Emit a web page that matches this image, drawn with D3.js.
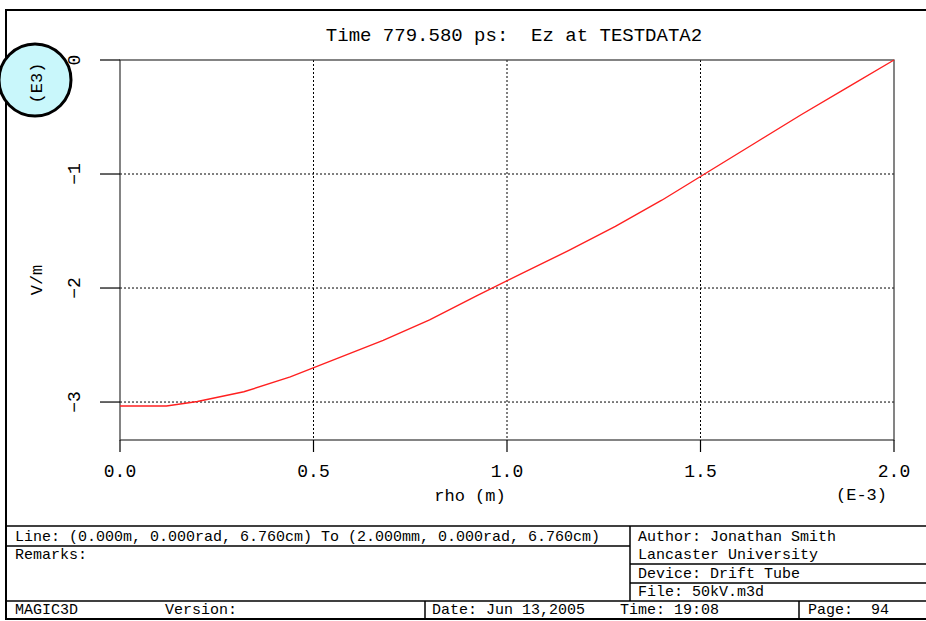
<!DOCTYPE html>
<html>
<head>
<meta charset="utf-8">
<script src="https://cdn.jsdelivr.net/npm/d3@7"></script>
<style>
  body { margin: 0; background: #fff; }
  text { font-family: "Liberation Mono", "DejaVu Sans Mono", monospace; fill: #000; }
</style>
</head>
<body>
<div id="chart"></div>
<script>
// rho in units of 1e-3 m, Ez in units of 1e3 V/m
const rho = [0, 0.12, 0.2, 0.32, 0.44, 0.56, 0.68, 0.8, 0.92, 1.04, 1.16, 1.28, 1.4, 1.52, 1.64, 1.76, 1.88, 2.0];
const ez = [-3.035, -3.035, -2.995, -2.91, -2.78, -2.62, -2.46, -2.28, -2.07, -1.87, -1.67, -1.46, -1.23, -0.98, -0.73, -0.48, -0.24, 0];
const xTicks = [0, 0.5, 1.0, 1.5, 2.0];
const yTicks = [0, -1, -2, -3];

const title = "Time 779.580 ps:  Ez at TESTDATA2";
const lineInfo = "Line: (0.000m, 0.000rad, 6.760cm) To (2.000mm, 0.000rad, 6.760cm)";

const width = 926, height = 621;
const plotL = 120, plotR = 894, plotT = 60, plotB = 440;

const svg = d3.select("#chart").append("svg")
  .attr("width", width)
  .attr("height", height);

const x = d3.scaleLinear().domain([0, 2]).range([plotL, plotR]);
const y = d3.scaleLinear().domain([0, -3.333]).range([plotT, plotB]);

// outer frame
svg.append("rect")
  .attr("x", 6).attr("y", 10)
  .attr("width", 930).attr("height", 609)
  .attr("fill", "none").attr("stroke", "#000").attr("stroke-width", 2);

svg.append("text")
  .attr("x", 514).attr("y", 41)
  .attr("text-anchor", "middle")
  .attr("font-size", 19)
  .attr("xml:space", "preserve")
  .text(title);

// grid
svg.selectAll(".gx")
  .data(xTicks.filter(d => d > 0 && d < 2))
  .enter().append("line")
  .attr("x1", d => x(d)).attr("x2", d => x(d))
  .attr("y1", plotT).attr("y2", plotB)
  .attr("stroke", "#000").attr("stroke-dasharray", "2,2");

svg.selectAll(".gy")
  .data(yTicks.filter(d => d < 0))
  .enter().append("line")
  .attr("x1", plotL).attr("x2", plotR)
  .attr("y1", d => y(d)).attr("y2", d => y(d))
  .attr("stroke", "#000").attr("stroke-dasharray", "2,2");

// plot box
svg.append("rect")
  .attr("x", plotL).attr("y", plotT)
  .attr("width", plotR - plotL).attr("height", plotB - plotT)
  .attr("fill", "none").attr("stroke", "#333").attr("stroke-width", 1.2);

// x axis
const xAxis = svg.append("g");
xAxis.selectAll("line")
  .data(xTicks)
  .enter().append("line")
  .attr("x1", d => x(d)).attr("x2", d => x(d))
  .attr("y1", plotB).attr("y2", plotB + 12)
  .attr("stroke", "#000").attr("stroke-width", 1.2);
xAxis.selectAll("text")
  .data(xTicks)
  .enter().append("text")
  .attr("x", d => x(d)).attr("y", plotB + 37)
  .attr("text-anchor", "middle")
  .attr("font-size", 18)
  .text(d => d3.format(".1f")(d));

svg.append("text")
  .attr("x", 470).attr("y", 501)
  .attr("text-anchor", "middle").attr("font-size", 17)
  .text("rho (m)");
svg.append("text")
  .attr("x", 887).attr("y", 500)
  .attr("text-anchor", "end").attr("font-size", 17)
  .text("(E-3)");

// y axis
const yAxis = svg.append("g");
yAxis.selectAll("line")
  .data(yTicks)
  .enter().append("line")
  .attr("x1", plotL - 20).attr("x2", plotL)
  .attr("y1", d => y(d)).attr("y2", d => y(d))
  .attr("stroke", "#000").attr("stroke-width", 1.2);
yAxis.selectAll("text")
  .data(yTicks)
  .enter().append("text")
  .attr("transform", d => `translate(80,${y(d)}) rotate(-90)`)
  .attr("text-anchor", "middle")
  .attr("font-size", 18)
  .text(d => d === 0 ? "0" : "\u2212" + Math.abs(d));

svg.append("text")
  .attr("transform", "translate(42,280) rotate(-90)")
  .attr("text-anchor", "middle").attr("font-size", 17)
  .text("V/m");

// highlight circle over exponent label
svg.append("circle")
  .attr("cx", 35).attr("cy", 80).attr("r", 36)
  .attr("fill", "#c9f7fb").attr("stroke", "#000").attr("stroke-width", 3);
svg.append("text")
  .attr("transform", "translate(42,83) rotate(-90)")
  .attr("text-anchor", "middle").attr("font-size", 17)
  .text("(E3)");

// data line
const line = d3.line()
  .x((d, i) => x(rho[i]))
  .y(d => y(d));
svg.append("path")
  .datum(ez)
  .attr("d", line)
  .attr("fill", "none")
  .attr("stroke", "#ff2020")
  .attr("stroke-width", 1.4);

// info table
const tbl = svg.append("g").attr("stroke", "#000").attr("stroke-width", 1.5);
const hl = [[6, 930, 526], [6, 630, 546], [630, 930, 564], [630, 930, 583], [6, 930, 601]];
tbl.selectAll(".h").data(hl).enter().append("line")
  .attr("x1", d => d[0]).attr("x2", d => d[1])
  .attr("y1", d => d[2]).attr("y2", d => d[2]);
const vl = [[630, 526, 601], [425, 601, 619], [799, 601, 619]];
tbl.selectAll(".v").data(vl).enter().append("line")
  .attr("x1", d => d[0]).attr("x2", d => d[0])
  .attr("y1", d => d[1]).attr("y2", d => d[2]);

const cells = [
  [15, 541, lineInfo],
  [15, 559, "Remarks:"],
  [638, 541, "Author: Jonathan Smith"],
  [638, 559, "Lancaster University"],
  [638, 578, "Device: Drift Tube"],
  [638, 596, "File: 50kV.m3d"],
  [15, 614, "MAGIC3D"],
  [165, 614, "Version:"],
  [432, 614, "Date: Jun 13,2005"],
  [620, 614, "Time: 19:08"],
  [808, 614, "Page:  94"]
];
svg.selectAll(".cell").data(cells).enter().append("text")
  .attr("x", d => d[0]).attr("y", d => d[1])
  .attr("font-size", 15)
  .attr("xml:space", "preserve")
  .text(d => d[2]);
</script>
</body>
</html>
